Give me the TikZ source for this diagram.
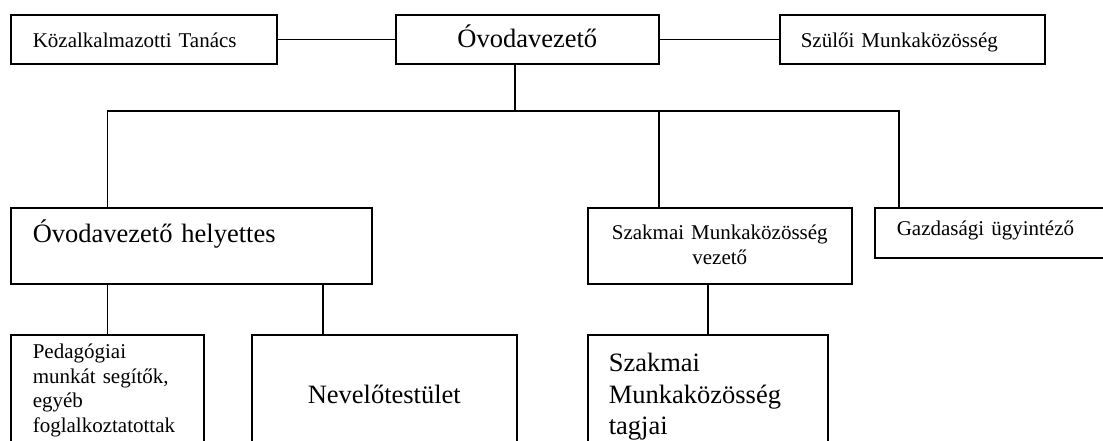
\documentclass[tikz,border=0pt]{standalone}
\usepackage{fontspec}
\setmainfont{Liberation Serif}
\usepackage{tikz}
\usetikzlibrary{calc}
\tikzset{
	box/.style = {draw, line width=1.6pt, anchor=north west, inner ysep=0pt},
	small/.style = {font=\fontsize{21}{24.5}\selectfont},
	large/.style = {font=\fontsize{26.5}{31.5}\selectfont},
	link/.style = {line width=1.6pt}
}

\begin{document}
\begin{tikzpicture}[x=1pt,y=-1pt]
\useasboundingbox (0,0) rectangle (1103,440);
\clip (0,0) rectangle (1103,440);
% top row
\node [box, small, minimum width=266pt, inner xsep=22pt, text width=222pt,
	align=left, text height=33pt, text depth=16pt] (kt) at (10,14)
	{Közalkalmazotti Tanács};
\node [box, large, minimum width=263pt, inner xsep=10pt, text width=243pt,
	align=center, text height=33pt, text depth=16pt] (ov) at (395,14)
	{Óvodavezető};
\node [box, small, minimum width=265pt, inner xsep=21pt, text width=223pt,
	align=left, text height=33pt, text depth=16pt] (szm) at (779,14)
	{Szülői Munkaközösség};
% middle row
\node [box, large, minimum width=361pt, inner xsep=22pt, text width=317pt,
	align=left, text height=35pt, text depth=41pt] (hely) at (10,207)
	{Óvodavezető helyettes};
\node [box, small, minimum width=264pt, inner xsep=8pt, text width=248pt,
	align=center, text height=32pt, text depth=44pt] (szv) at (587,207)
	{Szakmai Munkaközösség\\ vezető};
\node [box, small, minimum width=260pt, inner xsep=22pt, text width=216pt,
	align=left, text height=28pt, text depth=22pt] (gazd) at (874,207)
	{Gazdasági ügyintéző};
% bottom row
\node [box, small, minimum width=193pt, inner xsep=22pt, text width=149pt,
	align=left, text height=24pt, text depth=106pt] (ped) at (10,334)
	{Pedagógiai\\ munkát segítők,\\ egyéb\\ foglalkoztatottak};
\node [box, large, minimum width=265pt, inner xsep=10pt, text width=245pt,
	align=center, text height=69pt, text depth=61pt] (nev) at (251,334)
	{Nevelőtestület};
\node [box, large, minimum width=240pt, inner xsep=21pt, text width=198pt,
	align=left, text height=37pt, text depth=93pt] (tag) at (587,334)
	{Szakmai\\ Munkaközösség\\ tagjai};
% connectors
\coordinate (bar) at (515,111);
\coordinate (sv) at ($(szv.north west)+(72,0)$);
\coordinate (gz) at ($(gazd.north west)+(25,0)$);
\coordinate (nv) at ($(nev.north west)+(72,0)$);
\draw [link] (kt.east) -- (ov.west);
\draw [link] (ov.east) -- (szm.west);
\draw [link] (ov.south -| bar) -- (bar);
\draw [link] (ped.north |- hely.north) -- (ped.north |- bar) -- (gz |- bar) -- (gz);
\draw [link] (sv |- bar) -- (sv);
\draw [link] (ped.north |- hely.south) -- (ped.north);
\draw [link] (nv |- hely.south) -- (nv);
\draw [link] (tag.north |- szv.south) -- (tag.north);
\end{tikzpicture}
\end{document}
